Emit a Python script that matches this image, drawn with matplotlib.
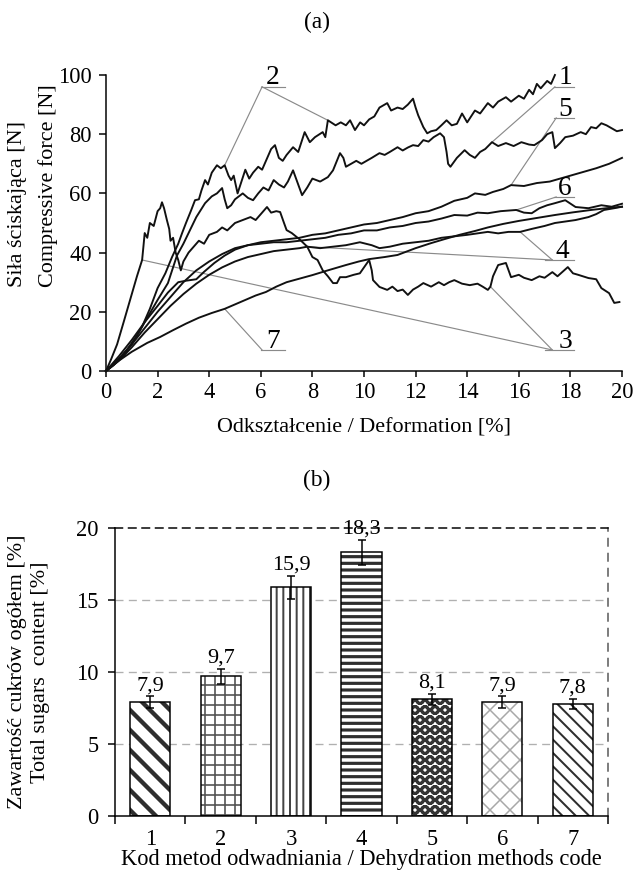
import numpy as np
import matplotlib
matplotlib.use('Agg')
import matplotlib.pyplot as plt

plt.rcParams['font.family'] = ['Liberation Serif', 'DejaVu Serif']
plt.rcParams['font.size'] = 13

# ---------------- (a) compressive force curves ----------------
c1_x = [0, 0.4, 0.8, 1.2, 1.6, 2.0, 2.4, 2.75, 3.0, 3.2, 3.5, 3.84, 4.1, 4.3, 4.5, 4.6, 4.7, 4.85, 5.0,
        5.3, 5.5, 5.7, 5.9, 6.1, 6.3, 6.5, 6.7, 6.9, 7.05, 7.25, 7.45, 7.6, 7.8, 8.0, 8.3, 8.6, 8.8,
        9.07, 9.2, 9.3, 9.5, 9.7, 9.9, 10.1, 10.3, 10.6, 10.8, 11.0, 11.3, 11.5, 11.7, 11.9, 12.1,
        12.3, 12.5, 12.7, 12.95, 13.1, 13.2, 13.26, 13.35, 13.6, 13.9, 14.1, 14.3, 14.5, 14.7, 14.96,
        15.2, 15.5, 15.8, 16.1, 16.4, 16.6, 16.9, 17.1, 17.3, 17.4, 17.6, 17.8, 18.1, 18.4, 18.6,
        18.8, 19.0, 19.2, 19.4, 19.6, 19.8, 20.0]
c1_y = [0, 3, 7, 12, 18, 24, 29.7, 39, 43, 46.6, 52, 56.7, 59, 60, 61.8, 58, 55, 56, 58,
        60, 58.5, 57.7, 60, 62, 61, 64.5, 63, 62, 64, 67.8, 63, 59.4, 62, 65, 64, 65.5, 67.8,
        73.6, 72, 69, 70, 71, 70, 71, 72, 73.6, 73, 74, 75.6, 74.5, 75.5, 76.3, 76,
        78, 77.5, 79, 80.3, 79, 74, 70, 69, 72, 74.6, 73, 72, 74, 75, 77.3,
        76, 77, 76, 77.3, 76.5, 76.3, 78, 80, 80.7, 75.3, 77, 79, 79.5, 80.7, 80,
        82.4, 82, 83.7, 83, 82, 81, 81.4]

c2_x = [0, 0.3, 0.6, 1.0, 1.4, 1.7, 2.0, 2.3, 2.56, 2.8, 2.95, 3.1, 3.3, 3.45, 3.6, 3.7, 3.84, 3.95,
        4.1, 4.3, 4.45, 4.6, 4.75, 4.85, 4.95, 5.1, 5.25, 5.4, 5.55, 5.7, 5.9, 6.05, 6.2, 6.4, 6.55,
        6.7, 6.85, 7.0, 7.25, 7.45, 7.7, 7.9, 8.1, 8.4, 8.5, 8.6, 8.9, 9.1, 9.3, 9.46, 9.65, 9.85,
        10.0, 10.2, 10.4, 10.6, 10.9, 11.05, 11.3, 11.5, 11.7, 11.9, 12.0, 12.1, 12.3, 12.45, 12.6,
        12.8, 13.0, 13.2, 13.4, 13.6, 13.8, 14.0, 14.3, 14.5, 14.8, 15.0, 15.2, 15.5, 15.7, 16.0,
        16.2, 16.4, 16.55, 16.7, 16.85, 17.1, 17.25, 17.4]
c2_y = [0, 2, 5, 9, 15, 21, 28, 33, 38.5, 43, 46.6, 50, 54.3, 57.7, 58, 61, 64.5, 63,
        67, 69.5, 68.5, 69.5, 66, 64.5, 66, 60, 64, 68, 65, 67, 69, 68, 71, 75, 76.3,
        72, 71, 73, 75.6, 74, 80.7, 77.3, 79, 80.7, 79, 84.7, 83, 84, 83, 84.7, 81.4, 84,
        83, 85, 86, 89, 90.5, 88, 89, 88.5, 90, 92, 89, 86.4, 82.4, 80.3, 81,
        81.4, 83, 84.7, 83, 83.5, 87, 84, 88, 87, 90.5, 89, 91, 92.5, 91, 93,
        92, 95, 93.5, 97, 95.5, 98, 97, 100]

c3_x = [0, 0.2, 0.43, 0.7, 1.0, 1.2, 1.4, 1.45, 1.5, 1.6, 1.7, 1.85, 2.0, 2.1, 2.17, 2.25, 2.36,
        2.45, 2.5, 2.6, 2.7, 2.8, 2.9, 3.0, 3.2, 3.4, 3.6, 3.8, 4.0, 4.3, 4.5, 4.7, 5.0, 5.3, 5.6,
        5.8, 6.0, 6.24, 6.4, 6.6, 6.75, 6.9, 7.0, 7.2, 7.5, 7.8, 8.0, 8.2, 8.4, 8.6, 8.8, 8.95,
        9.07, 9.3, 9.6, 9.84, 10.0, 10.2, 10.3, 10.35, 10.6, 10.9, 11.1, 11.3, 11.5, 11.7, 11.9,
        12.1, 12.3, 12.6, 12.9, 13.1, 13.3, 13.5, 13.8, 14.1, 14.4, 14.6, 14.8, 14.9, 15.0, 15.2,
        15.5, 15.7, 16.0, 16.2, 16.5, 16.8, 17.0, 17.3, 17.5, 17.9, 18.1, 18.3, 18.7, 19.0, 19.2,
        19.5, 19.7, 19.9]
c3_y = [0, 4, 9, 17, 26, 32, 37.5, 42, 46.6, 45, 50, 49, 54, 55, 57, 55, 51,
        48, 44, 45, 40, 37.5, 34, 37, 40, 42, 44, 43, 46, 47, 48.5, 47.5, 50, 51, 52,
        51, 53, 55.4, 53.5, 54, 53.7, 50, 47.6, 46.6, 44.5, 42, 38.5, 37.5, 34, 32, 29.7, 29.7,
        31.7, 31.7, 32.5, 33, 35, 37.5, 34, 30.7, 28.4, 27.4, 28.5, 27, 27.5, 25.7, 27.5,
        28.5, 29.7, 28.5, 30, 29, 30, 30.7, 29.5, 29, 29.5, 28.5, 27.4, 28.5, 32, 35.8,
        36.5, 31.7, 32.5, 31.5, 30.7, 32, 31.5, 33.4, 32, 35.1, 33, 32.5, 31.4, 31, 28,
        26.3, 23, 23.3]

c4_x = [0, 0.5, 1, 1.5, 2, 2.5, 3, 3.5, 4, 4.5, 5, 5.5, 6, 6.5, 7, 7.5, 7.8, 8.3, 8.8, 9.3, 9.84,
        10.3, 10.6, 11, 11.5, 12, 12.5, 13, 13.5, 14, 14.4, 14.8, 15.2, 15.6, 16.05, 16.5, 17,
        17.4, 17.8, 18.2, 18.7, 19, 19.3, 19.7, 20]
c4_y = [0, 3.5, 8, 13, 17.5, 22, 26, 29.5, 32.5, 35, 37, 38.5, 39.5, 40.5, 41, 41.5, 42, 41.5,
        42, 42.5, 43.5, 42.5, 41.5, 42, 43, 43.5, 44, 45, 45.5, 46, 46.5, 47, 46.5, 47, 47, 48,
        49, 50, 50.5, 51, 52, 53, 54.4, 55, 55.5]

c5_x = [0, 0.5, 1, 1.5, 2, 2.5, 3, 3.5, 4, 4.5, 5, 5.5, 6, 6.5, 7, 7.5, 8, 8.5, 9, 9.5, 10, 10.5,
        11, 11.5, 12, 12.5, 13, 13.5, 14, 14.3, 14.7, 15, 15.4, 15.7, 16.2, 16.7, 17.2, 17.8,
        18.4, 19, 19.5, 20]
c5_y = [0, 4, 9, 14.5, 20, 25, 30, 34, 37, 39.5, 41.5, 42.5, 43.5, 44, 44.5, 45, 46, 46.5,
        47.5, 48.5, 49.5, 50, 51, 52, 53.3, 54, 55.5, 57.5, 58.5, 60, 59.5, 60.5, 61.5, 62.8,
        62.5, 63.5, 64, 65.5, 67, 68.5, 70, 72]

c6_x = [0, 0.5, 1, 1.5, 2, 2.4, 2.8, 3.1, 3.5, 3.8, 4.2, 4.6, 5, 5.5, 6, 6.5, 7, 7.5, 8, 8.5, 9,
        9.5, 10, 10.5, 11, 11.5, 12, 12.5, 13, 13.5, 14, 14.4, 14.8, 15.3, 15.9, 16.2, 16.5, 16.8,
        17.1, 17.4, 17.8, 18.2, 18.7, 19.2, 19.6, 20]
c6_y = [0, 5, 10.5, 16.5, 22, 26.5, 30, 30.5, 31, 33.5, 36.5, 39, 41, 42.5, 43, 43.5, 43.5,
        44, 44.5, 45, 46, 46.5, 47.5, 47.5, 48.5, 49, 50, 50.5, 51.5, 52.7, 52.5, 53.5, 53.3,
        54, 54.4, 53.5, 53.3, 55, 56, 56.7, 57.7, 55.4, 55, 56, 55.5, 56.5]

c7_x = [0, 0.5, 1, 1.6, 2.1, 2.6, 3.1, 3.6, 4.1, 4.6, 5.0, 5.4, 5.8, 6.2, 6.6, 7.0, 7.5, 8.0, 8.6,
        9.3, 9.8, 10.2, 10.8, 11.3, 12.0, 12.6, 13.1, 13.7, 14.3, 14.8, 15.4, 16.0, 16.7, 17.4,
        18.1, 18.8, 19.4, 20]
c7_y = [0, 3.5, 6.5, 9.5, 11.5, 13.8, 16, 18, 19.6, 21, 22.5, 24, 25.5, 26.7, 28.5, 30, 31.2,
        32.4, 34, 35.8, 37, 37.8, 38.5, 39.2, 41.5, 43.2, 44.5, 46, 47.3, 48.5, 49.7, 50.7,
        51.7, 52.7, 53.6, 54.4, 55, 55.5]

curve_names = ['1', '2', '3', '4', '5', '6', '7']
force_x_ticks = list(range(0, 21, 2))
force_y_ticks = list(range(0, 101, 20))

# ---------------- (b) total sugars ----------------
codes = ['1', '2', '3', '4', '5', '6', '7']
sugars = [7.9, 9.7, 15.9, 18.3, 8.1, 7.9, 7.8]
sugars_err = [0.4, 0.5, 0.8, 0.9, 0.4, 0.4, 0.35]
sugar_labels = ['7,9', '9,7', '15,9', '18,3', '8,1', '7,9', '7,8']
sugar_y_ticks = [0, 5, 10, 15, 20]

DPI = 120
W, H = 634, 875
fig = plt.figure(figsize=(W / DPI, H / DPI), dpi=DPI)


def fx(px):
    return px / W


def fy(py):
    return 1 - py / H


# ====================== panel (a) ======================
ax1 = fig.add_axes([fx(106), fy(371), fx(622) - fx(106), fy(75) - fy(371)])
curves = {'1': (c1_x, c1_y), '2': (c2_x, c2_y), '3': (c3_x, c3_y), '4': (c4_x, c4_y),
          '5': (c5_x, c5_y), '6': (c6_x, c6_y), '7': (c7_x, c7_y)}
for name in curve_names:
    x, y = curves[name]
    ax1.plot(x, y, color='#111111', lw=1.15, clip_on=False, solid_joinstyle='round', zorder=3)

ax1.set_xlim(0, 20)
ax1.set_ylim(0, 100)
ax1.set_xticks(force_x_ticks)
ax1.set_yticks(force_y_ticks)
for s in ['top', 'right']:
    ax1.spines[s].set_visible(False)
for s in ['left', 'bottom']:
    ax1.spines[s].set_linewidth(0.9)
ax1.tick_params(axis='y', direction='out', length=4.5, width=0.9, pad=4, labelsize=13.5)
ax1.tick_params(axis='x', direction='out', length=3.5, width=0.9, pad=3, labelsize=13.5)

# callouts: label, text x, underline (x0, x1, y), leader origin x, target x positions on curve
callouts = [
    ('2', 6.47, 6.0, 6.95, 96.0, 6.05, [4.6, 8.6]),
    ('1', 17.8, 17.35, 18.15, 96.0, 17.4, [14.96]),
    ('5', 17.8, 17.35, 18.15, 85.5, 17.45, [15.7]),
    ('6', 17.8, 17.35, 18.15, 58.8, 17.45, [15.9]),
    ('4', 17.7, 17.0, 18.15, 37.5, 17.3, [16.05, 7.8]),
    ('3', 17.8, 17.0, 18.15, 7.1, 17.3, [14.9, 1.4]),
    ('7', 6.47, 6.0, 6.95, 7.1, 6.05, [4.6]),
]
leader_col = '#8a8a8a'
for name, tx, x0, x1, ly, ox, targets in callouts:
    cx, cy = curves[name]
    ax1.plot([x0, x1], [ly, ly], color=leader_col, lw=0.7, clip_on=False, zorder=2)
    for t in targets:
        ty = float(np.interp(t, cx, cy))
        ax1.plot([ox, t], [ly, ty], color=leader_col, lw=0.7, clip_on=False, zorder=2)
    ax1.text(tx, ly + 0.8, name, ha='center', va='baseline', fontsize=16.5, clip_on=False)

fig.text(fx(317), fy(22), '(a)', ha='center', va='center', fontsize=14)
fig.text(fx(364), fy(428), 'Odkształcenie / Deformation [%]', ha='center', va='center', fontsize=13.3)
fig.text(fx(18), fy(287), 'Siła ściskająca [N]', rotation=90, ha='center', va='bottom', fontsize=13.3)
fig.text(fx(48), fy(287), 'Compressive force [N]', rotation=90, ha='center', va='bottom', fontsize=13.3)

# ====================== panel (b) ======================
ax2 = fig.add_axes([fx(115), fy(816), fx(608) - fx(115), fy(528) - fy(816)])
pos = np.arange(1, len(codes) + 1)
bar_w = 0.57
hatch_styles = [('\\\\', '#2e2e2e', 2.6), ('++', '#555555', 1.0), ('|||', '#444444', 1.2),
                ('---', '#2e2e2e', 1.9), ('OO', '#333333', 1.7), ('xx', '#a8a8a8', 0.9),
                ('\\\\\\', '#2e2e2e', 1.2)]
for i in range(len(codes)):
    h, hc, hl = hatch_styles[i]
    with plt.rc_context({'hatch.linewidth': hl}):
        bars = ax2.bar(pos[i], sugars[i], width=bar_w, color='white', edgecolor=hc,
                       hatch=h, linewidth=0, zorder=2)
    for p in bars:
        if hasattr(p, 'set_hatch_linewidth'):
            p.set_hatch_linewidth(hl)
    ax2.bar(pos[i], sugars[i], width=bar_w, fill=False, edgecolor='black', linewidth=0.9, zorder=3)

ax2.errorbar(pos, sugars, yerr=sugars_err, fmt='none', ecolor='black', elinewidth=0.9,
             capsize=2.5, capthick=0.9, zorder=4)
for xi, v, e, lab in zip(pos, sugars, sugars_err, sugar_labels):
    ax2.annotate(lab, (xi, v + e), xytext=(0, 6.5), textcoords='offset points',
                 ha='center', va='center', fontsize=13.3, zorder=5)

for g in [5, 10, 15]:
    ax2.axhline(g, color='#b0b0b0', lw=0.8, ls=(0, (6, 4)), zorder=1)

ax2.set_xlim(0.5, len(codes) + 0.5)
ax2.set_ylim(0, 20)
ax2.set_yticks(sugar_y_ticks)
ax2.set_xticks(np.arange(0.5, len(codes) + 1, 1))
ax2.set_xticklabels([])
ax2.set_xticks(pos, minor=True)
ax2.set_xticklabels(codes, minor=True)
ax2.tick_params(axis='x', which='major', direction='out', length=5, width=0.9)
ax2.tick_params(axis='x', which='minor', length=0, pad=8, labelsize=13.5)
ax2.tick_params(axis='y', direction='out', length=4, width=0.9, pad=6, labelsize=13.5)
for s in ['left', 'bottom']:
    ax2.spines[s].set_linewidth(0.9)
ax2.spines['top'].set_linestyle((0, (5, 4)))
ax2.spines['top'].set_linewidth(0.9)
ax2.spines['right'].set_linestyle((0, (5, 5)))
ax2.spines['right'].set_color('#555555')
ax2.spines['right'].set_linewidth(0.9)

fig.text(fx(317), fy(480), '(b)', ha='center', va='center', fontsize=14)
fig.text(fx(361), fy(860), 'Kod metod odwadniania / Dehydration methods code', ha='center',
         va='center', fontsize=13.5)
fig.text(fx(18), fy(672), 'Zawartość cukrów ogółem [%]', rotation=90, ha='center', va='center',
         fontsize=13.3)
fig.text(fx(41), fy(672), 'Total sugars  content [%]', rotation=90, ha='center', va='center',
         fontsize=13.3)

fig.savefig('out.png', dpi=DPI)
